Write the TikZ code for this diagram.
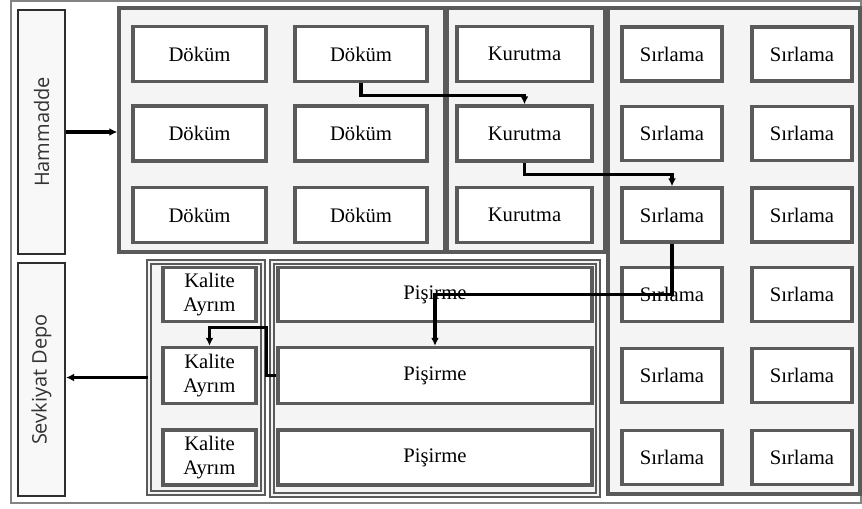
\documentclass[tikz,border=0pt]{standalone}
\usepackage{fontspec}
\setmainfont{Liberation Serif}
\newfontfamily\labelsans{Open Sans}
\usetikzlibrary{arrows.meta}

\definecolor{grpfill}{HTML}{F4F4F4}
\definecolor{grpline}{HTML}{5A5A5A}
\definecolor{sidefill}{HTML}{F8F8F8}
\definecolor{sideline}{HTML}{2E2E2E}
\definecolor{sidetext}{HTML}{333333}

\begin{document}
\begin{tikzpicture}[x=0.75pt, y=-0.75pt,
  sz/.style 2 args={minimum width=#1*0.75pt, minimum height=#2*0.75pt},
  group/.style={draw=grpline, fill=grpfill, line width=2.6pt, inner sep=0pt},
  dgroup/.style={draw=grpline, fill=grpfill, line width=1.5pt, double=grpfill, double distance=1.5pt, inner sep=0pt},
  stage/.style={draw=grpline, fill=white, line width=2.6pt, inner sep=0pt,
    font=\fontsize{15.5}{18.5}\selectfont, align=center},
  side/.style={draw=sideline, fill=sidefill, line width=1.7pt, inner sep=0pt},
  sidelabel/.style={font=\labelsans\fontsize{15}{18}\selectfont, text=sidetext, rotate=90},
  conn/.style={draw=black, line width=2.3pt, -{Latex[length=6pt,width=6pt]}}
]
\useasboundingbox (0,0) rectangle (862,508);

% outer frame
\draw[draw=grpline!75, line width=1.3pt] (11,1) rectangle (861,503);

% side boxes
\node[side, sz={47}{244}] (ham) at (41.5,132) {};
\node[sidelabel] at (ham.center) {Hammadde};
\node[side, sz={47}{233}] (sev) at (41.5,379.5) {};
\node[sidelabel] at (sev.center) {Sevkiyat Depo};

% stage groups
\node[group, sz={326}{244}] (dgrp) at (282,130) {};
\node[group, sz={157}{244}] (kgrp0) at (526,130) {};
\node[group, sz={252}{486}] (sgrp) at (734,251) {};
\node[dgroup, sz={114}{231}] (kgrp) at (206,377.5) {};
\node[dgroup, sz={326}{233}] (pgrp) at (435,378.5) {};

% Döküm
\node[stage, sz={133}{55}] (d11) at (199.5,54) {Döküm};
\node[stage, sz={132}{55}] (d12) at (361,54) {Döküm};
\node[stage, sz={133}{55}] (d21) at (199.5,133.5) {Döküm};
\node[stage, sz={132}{55}] (d22) at (361,133.5) {Döküm};
\node[stage, sz={133}{55}] (d31) at (199.5,215) {Döküm};
\node[stage, sz={132}{55}] (d32) at (361,215) {Döküm};

% Kurutma
\node[stage, sz={135}{55}] (k1) at (524.5,54) {Kurutma};
\node[stage, sz={135}{55}] (k2) at (524.5,133.5) {Kurutma};
\node[stage, sz={135}{55}] (k3) at (524.5,215) {Kurutma};

% Sırlama
\foreach \r/\y in {1/54, 2/133.5, 3/215, 4/294.5, 5/375.5, 6/457.5} {
  \node[stage, sz={100}{54}] (s\r1) at (672,\y) {Sırlama};
  \node[stage, sz={100}{54}] (s\r2) at (802,\y) {Sırlama};
}

% Kalite Ayrım
\node[stage, sz={93}{54}] (q1) at (209.5,294.5) {Kalite\\Ayrım};
\node[stage, sz={93}{56}] (q2) at (209.5,375.5) {Kalite\\Ayrım};
\node[stage, sz={93}{55}] (q3) at (209.5,457.5) {Kalite\\Ayrım};

% Pişirme
\node[stage, sz={314}{54}] (p1) at (435,294.5) {Pişirme};
\node[stage, sz={314}{56}] (p2) at (435,375.5) {Pişirme};
\node[stage, sz={314}{55}] (p3) at (435,457.5) {Pişirme};

% flow
\draw[conn] (ham.east) -- (ham.east -| dgrp.west);
\draw[conn] (d12.south) -- ++(0,12) -| (k2.north);
\draw[conn] (k2.south) -- ++(0,12) -| (s31.north);
\draw[conn] (s31.south) -- (s41.center) -| (p2.north);
\draw[conn] (p2.west) -- ++(-10,0) |- ([yshift=-3pt]q1.south) -| (q2.north);
\draw[conn] (kgrp.west) -- (kgrp.west -| sev.east);
\end{tikzpicture}
\end{document}
